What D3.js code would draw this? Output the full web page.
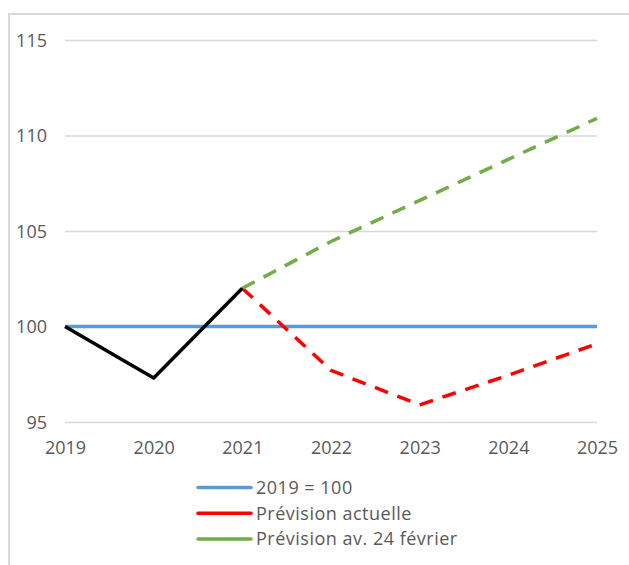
<!DOCTYPE html>
<html>
<head>
<meta charset="utf-8">
<script src="https://cdn.jsdelivr.net/npm/d3@7"></script>
<style>
  body { margin: 0; background: #fff; }
  svg text { font-family: "Open Sans", "Noto Sans", sans-serif; fill: #595959; }
</style>
</head>
<body>
<div id="chart"></div>
<script>
// années
const years = [2019, 2020, 2021, 2022, 2023, 2024, 2025];
const yTicks = [95, 100, 105, 110, 115];

// séries
const base = [100, 100, 100, 100, 100, 100, 100];
const history = [100, 97.3, 102];
const forecastNow = [null, null, 102, 97.7, 95.9, 97.45, 99.1];
const forecastBefore = [null, null, 102, 104.45, 106.6, 108.75, 110.9];

const legendLabels = ["2019 = 100", "Prévision actuelle", "Prévision av. 24 février"];
const colors = {blue: "#5b9bd5", red: "#ff0000", green: "#70ad47", black: "#000000"};

const width = 629, height = 565;
const margin = {top: 40, right: 32, bottom: 143, left: 65};

const svg = d3.select("#chart").append("svg")
	.attr("width", width)
	.attr("height", height);

// cadre
svg.append("path")
	.attr("d", `M9,${height} V14 H${width}`)
	.attr("fill", "none")
	.attr("stroke", "#d9d9d9")
	.attr("stroke-width", 2);

const x = d3.scalePoint()
	.domain(years)
	.range([margin.left, width - margin.right]);

const y = d3.scaleLinear()
	.domain([95, 115])
	.range([height - margin.bottom, margin.top]);

// grille + axe Y
const yAxis = svg.append("g")
	.attr("transform", `translate(${margin.left},0)`)
	.call(d3.axisLeft(y).tickValues(yTicks).tickFormat(d3.format("d"))
		.tickSize(-(width - margin.right - margin.left)).tickPadding(18));
yAxis.select(".domain").remove();
yAxis.selectAll(".tick line").attr("stroke", "#d9d9d9").attr("stroke-width", 1.5);
yAxis.selectAll(".tick text").style("font-size", "18px").attr("dy", "0.35em");

// axe X
const xAxis = svg.append("g")
	.attr("transform", `translate(0,${height - margin.bottom})`)
	.call(d3.axisBottom(x).tickSize(0).tickPadding(19));
xAxis.select(".domain").remove();
xAxis.selectAll(".tick text").style("font-size", "18px");

const line = d3.line()
	.defined(d => d != null)
	.x((d, i) => x(years[i]))
	.y(d => y(d));

function drawSeries(values, color, dashed) {
	svg.append("path")
		.datum(values)
		.attr("fill", "none")
		.attr("stroke", color)
		.attr("stroke-width", 3.5)
		.attr("stroke-linejoin", "round")
		.attr("stroke-dasharray", dashed ? "14,10" : null)
		.attr("d", line);
}

drawSeries(base, colors.blue, false);
drawSeries(forecastNow, colors.red, true);
drawSeries(forecastBefore, colors.green, true);
drawSeries(history, colors.black, false);

// légende
const legendColors = [colors.blue, colors.red, colors.green];
const legend = svg.append("g").attr("transform", "translate(198,487.5)");
legendLabels.forEach((label, i) => {
	const g = legend.append("g").attr("transform", `translate(0,${i * 25.7})`);
	g.append("line")
		.attr("x1", 0).attr("x2", 53)
		.attr("stroke", legendColors[i])
		.attr("stroke-width", 3.5)
		.attr("stroke-linecap", "round");
	g.append("text")
		.attr("x", 58)
		.attr("dy", "0.35em")
		.style("font-size", "18px")
		.style("letter-spacing", "0.5px")
		.text(label);
});
</script>
</body>
</html>
